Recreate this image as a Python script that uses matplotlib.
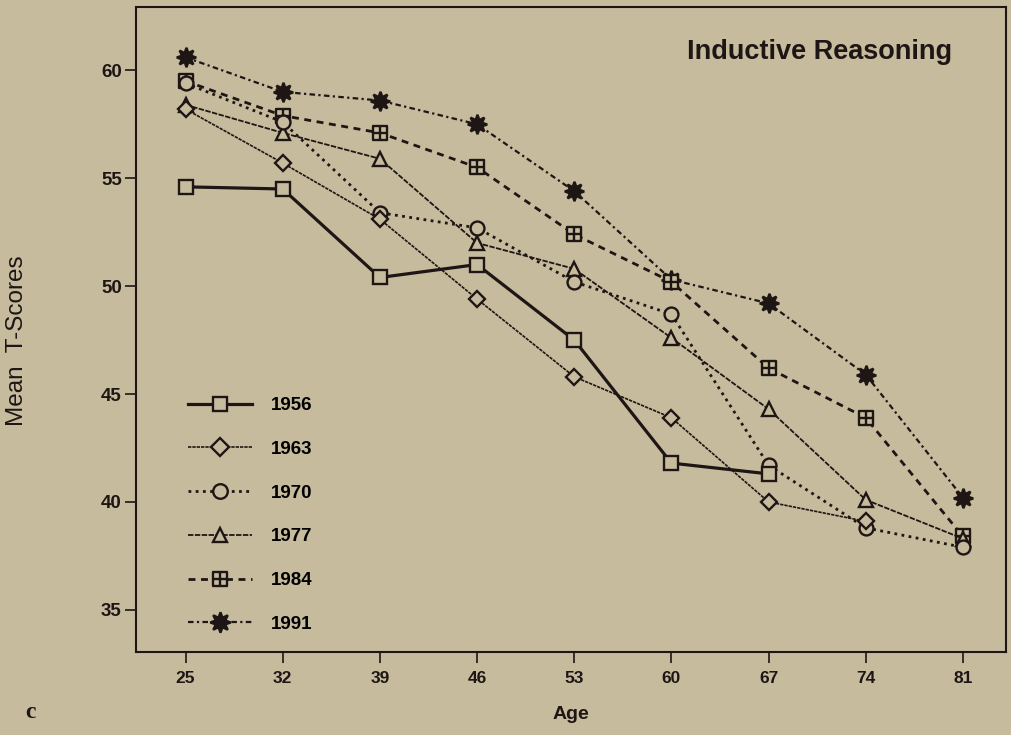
import matplotlib.pyplot as plt
from matplotlib.path import Path

# Mean T-scores for inductive reasoning, by age and year of testing
ages = [25, 32, 39, 46, 53, 60, 67, 74, 81]
t1956 = [54.6, 54.5, 50.4, 51.0, 47.5, 41.8, 41.3]
t1963 = [58.2, 55.7, 53.1, 49.4, 45.8, 43.9, 40.0, 39.1]
t1970 = [59.4, 57.6, 53.4, 52.7, 50.2, 48.7, 41.7, 38.8, 37.9]
t1977 = [58.4, 57.1, 55.9, 52.0, 50.8, 47.6, 44.3, 40.1, 38.3]
t1984 = [59.5, 57.9, 57.1, 55.5, 52.4, 50.2, 46.2, 43.9, 38.4]
t1991 = [60.6, 59.0, 58.6, 57.5, 54.4, 50.3, 49.2, 45.9, 40.2]
years = ["1956", "1963", "1970", "1977", "1984", "1991"]

bg = "#c7bb9e"
ink = "#1e1614"

# square with a cross inside (the 1984 marker)
boxplus = Path(
    [(-1, -1), (1, -1), (1, 1), (-1, 1), (-1, -1),
     (-1, 0), (1, 0), (0, -1), (0, 1)],
    [Path.MOVETO, Path.LINETO, Path.LINETO, Path.LINETO, Path.CLOSEPOLY,
     Path.MOVETO, Path.LINETO, Path.MOVETO, Path.LINETO])

styles = {
    "1956": dict(ls="-", lw=2.3, marker="s", ms=10, mfc=bg),
    "1963": dict(ls=(0, (2, 0.6)), lw=1.2, marker="D", ms=8.5, mfc=bg),
    "1970": dict(ls=(0, (1, 1.6)), lw=2.0, marker="o", ms=10, mfc=bg),
    "1977": dict(ls=(0, (3, 0.8)), lw=1.3, marker="^", ms=10, mfc=bg),
    "1984": dict(ls=(0, (2.5, 2)), lw=2.0, marker=boxplus, ms=10, mfc=bg),
    "1991": dict(ls=(0, (2.5, 1.5, 1, 1.5)), lw=1.6, marker=(8, 1, 0), ms=14, mfc=ink),
}
series = {"1956": t1956, "1963": t1963, "1970": t1970,
          "1977": t1977, "1984": t1984, "1991": t1991}

plt.rcParams['font.family'] = ['Liberation Sans', 'DejaVu Sans']

fig = plt.figure(figsize=(10.12, 7.35), dpi=100, facecolor=bg)
ax = fig.add_axes([0.134, 0.113, 0.860, 0.878], facecolor=bg)

lines = {}
for i, yr in enumerate(reversed(years)):
    vals = series[yr]
    st = styles[yr]
    ln, = ax.plot(ages[:len(vals)], vals, color=ink, mec=ink, mew=1.7,
                  label=yr, zorder=2 + i, **st)
    lines[yr] = ln

ax.set_xlim(21.4, 84.1)
ax.set_ylim(33.05, 62.95)
ax.set_xticks(ages)
ax.set_yticks([35, 40, 45, 50, 55, 60])
ax.tick_params(axis='both', direction='out', length=8, width=1.2, color=ink,
               labelcolor=ink, top=False, right=False)
ax.tick_params(axis='y', labelsize=13.5, pad=2)
ax.tick_params(axis='x', labelsize=12.5, pad=6)
for lab in ax.get_xticklabels() + ax.get_yticklabels():
    lab.set_fontweight('bold')
for sp in ax.spines.values():
    sp.set_color(ink)
    sp.set_linewidth(1.5)

ax.text(0.938, 0.929, "Inductive Reasoning", transform=ax.transAxes,
        ha='right', va='center', fontsize=19.5, fontweight='bold', color=ink)

ax.set_xlabel("Age", fontsize=14, fontweight='bold', color=ink, labelpad=14)
ax.set_ylabel("Mean  T-Scores", fontsize=17.5, color=ink)
ax.yaxis.set_label_coords(-0.124, 0.483)
fig.text(0.03, 0.031, "c", fontsize=17, fontweight='bold', color=ink,
         family='Liberation Serif', ha='center', va='center')

ax.legend([lines[y] for y in years], years, loc='lower left',
          bbox_to_anchor=(0.05, 0.015), frameon=False,
          prop={'weight': 'bold', 'size': 13.5}, handlelength=3.4,
          handletextpad=1.0, labelspacing=1.42, borderpad=0, markerscale=1.05)

fig.savefig("out.png", dpi=100, facecolor=bg)
